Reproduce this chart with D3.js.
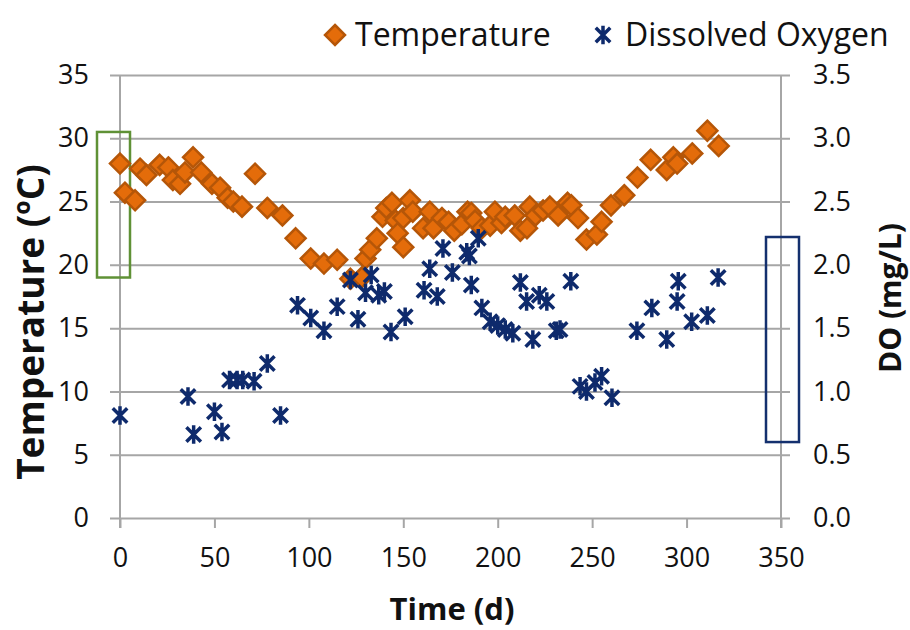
<!DOCTYPE html>
<html lang="en">
<head>
    <meta charset="UTF-8">
    <title>Temperature and DO</title>
    <script src="https://cdn.jsdelivr.net/npm/d3@7/dist/d3.min.js"></script>
    <style>
        body {
            margin: 0;
            background: #fff;
        }

        svg text {
            font-family: "Open Sans", sans-serif;
            fill: #111;
        }

        svg .grid line {
            stroke: #a6a6a6;
            stroke-width: 2px;
        }

        svg .axis-line {
            stroke: #a6a6a6;
            stroke-width: 2px;
        }

        svg .tick-label text {
            font-size: 27px;
        }

        svg .title {
            font-weight: bold;
        }

        svg .temp-node {
            fill: #e46c0a;
            stroke: #b55608;
            stroke-width: 2.5px;
        }

        svg .do-node {
            fill: none;
            stroke: #0e2a6c;
            stroke-width: 3.5px;
            stroke-linecap: square;
        }
    </style>
</head>
<body>
    <svg width="910" height="630"></svg>
    <script>
        // temperature (ºC) against time (d)
        var tempDays = [0, 2.6, 8, 10.6, 14, 21, 25.6, 28, 31.8, 34.4, 38.7, 43, 48.7, 53, 57, 60, 64.6,
                71.5, 78, 86, 93, 101, 108, 115, 122, 128, 130, 132.5, 136, 139, 141, 144, 146, 147,
                150, 150, 153.5, 155, 160.5, 164, 166, 170.5, 174, 177, 181, 184, 186, 188, 191.6,
                196, 198.5, 202, 204, 209, 212, 215.5, 217, 220, 224, 227.6, 232, 237, 239, 242.5,
                247, 252.5, 255, 260, 267, 274, 281, 289.5, 293, 295, 303, 311, 317],
            tempValues = [28.0, 25.7, 25.1, 27.6, 27.1, 27.9, 27.7, 26.7, 26.4, 27.3, 28.5, 27.3, 26.4,
                26.1, 25.3, 25.0, 24.6, 27.2, 24.5, 23.9, 22.1, 20.5, 20.1, 20.4, 18.9, 19.0, 20.5,
                21.2, 22.1, 23.8, 24.5, 24.9, 23.5, 22.5, 21.4, 23.7, 25.1, 24.2, 22.9, 24.2, 22.9,
                23.7, 23.4, 22.7, 23.2, 24.2, 24.1, 23.5, 22.9, 23.1, 24.2, 23.3, 23.8, 23.9, 22.7,
                22.9, 24.6, 23.9, 24.3, 24.6, 23.9, 24.9, 24.7, 23.7, 22.0, 22.4, 23.4, 24.7, 25.5,
                26.9, 28.3, 27.5, 28.5, 28.0, 28.8, 30.6, 29.4];

        // dissolved oxygen (mg/L) against time (d)
        var doDays = [0, 36, 39, 50, 54, 58, 62, 65, 71, 78, 85, 94, 101, 108, 115, 122, 126, 130,
                133, 137, 140, 143.5, 151, 161, 164, 168, 171, 176, 183.6, 185, 186, 189.7, 191.6,
                196, 200, 204, 208, 212, 215.3, 218.6, 222, 226, 231, 233, 238.7, 243.6, 247, 251.5,
                255, 260.5, 273.7, 281.6, 289.5, 295, 295.6, 302.7, 311, 316.7],
            doValues = [0.81, 0.96, 0.66, 0.84, 0.68, 1.09, 1.09, 1.09, 1.08, 1.22, 0.81, 1.68, 1.58,
                1.48, 1.67, 1.88, 1.57, 1.78, 1.92, 1.76, 1.79, 1.47, 1.59, 1.80, 1.97, 1.75, 2.13,
                1.94, 2.10, 2.07, 1.84, 2.21, 1.66, 1.55, 1.52, 1.49, 1.46, 1.86, 1.71, 1.41, 1.76,
                1.71, 1.48, 1.49, 1.87, 1.04, 1.00, 1.07, 1.12, 0.95, 1.48, 1.66, 1.41, 1.71, 1.87,
                1.55, 1.60, 1.90];

        var xTicks = [0, 50, 100, 150, 200, 250, 300, 350],
            tempTicks = [0, 5, 10, 15, 20, 25, 30, 35],
            doTicks = [0, 0.5, 1.0, 1.5, 2.0, 2.5, 3.0, 3.5],
            seriesNames = ['Temperature', 'Dissolved Oxygen'];

        var svg = d3.select('svg'),
            x = d3.scaleLinear().domain([0, 350]).range([120, 781]),
            yT = d3.scaleLinear().domain([0, 35]).range([518, 75]),
            yD = d3.scaleLinear().domain([0, 3.5]).range([518, 75]);

        var diamond = 'M0,-10L10,0L0,10L-10,0Z',
            star = 'M-6,-6L6,6M-6,6L6,-6M0,-7.5L0,7.5';

        // horizontal grid, running from left tick to right tick
        svg.append('g')
            .attr('class', 'grid')
            .attr('transform', 'translate(790,0)')
            .call(d3.axisLeft(yT).tickValues(tempTicks).tickSize(680).tickFormat(''))
            .call(function(g) { g.select('.domain').remove(); });

        // vertical axis lines
        svg.append('line')
            .attr('class', 'axis-line')
            .attr('x1', x(0)).attr('x2', x(0))
            .attr('y1', yT(35)).attr('y2', yT(0) + 10);

        svg.append('line')
            .attr('class', 'axis-line')
            .attr('x1', x(350)).attr('x2', x(350))
            .attr('y1', yT(35)).attr('y2', yT(0) + 10);

        // bottom axis
        var xAxis = svg.append('g')
            .attr('class', 'tick-label')
            .attr('transform', 'translate(0,518)')
            .call(d3.axisBottom(x).tickValues(xTicks).tickSize(10).tickPadding(20));
        xAxis.select('.domain').remove();
        xAxis.selectAll('.tick line').attr('stroke', '#a6a6a6').attr('stroke-width', 2);
        xAxis.selectAll('text').attr('fill', '#111');

        var leftAxis = svg.append('g')
            .attr('class', 'tick-label')
            .attr('transform', 'translate(110,0)')
            .call(d3.axisLeft(yT).tickValues(tempTicks).tickSize(0).tickPadding(21));
        leftAxis.select('.domain').remove();
        leftAxis.selectAll('text').attr('fill', '#111');

        var rightAxis = svg.append('g')
            .attr('class', 'tick-label')
            .attr('transform', 'translate(790,0)')
            .call(d3.axisRight(yD).tickValues(doTicks).tickSize(0).tickPadding(23)
                .tickFormat(d3.format('.1f')));
        rightAxis.select('.domain').remove();
        rightAxis.selectAll('text').attr('fill', '#111');

        // highlight boxes
        svg.append('rect')
            .attr('x', x(0) - 23).attr('y', yT(30.5))
            .attr('width', 33).attr('height', yT(19) - yT(30.5))
            .attr('fill', 'none').attr('stroke', '#5f9136').attr('stroke-width', 2.5);

        svg.append('rect')
            .attr('x', x(350) - 15).attr('y', yD(2.22))
            .attr('width', 33).attr('height', yD(0.6) - yD(2.22))
            .attr('fill', 'none').attr('stroke', '#14306e').attr('stroke-width', 2.5);

        // series
        svg.append('g').selectAll('path')
            .data(tempDays)
            .enter().append('path')
            .attr('class', 'temp-node')
            .attr('d', diamond)
            .attr('transform', function(d, i) {
                return 'translate(' + x(d) + ',' + yT(tempValues[i]) + ')';
            });

        svg.append('g').selectAll('path')
            .data(doDays)
            .enter().append('path')
            .attr('class', 'do-node')
            .attr('d', star)
            .attr('transform', function(d, i) {
                return 'translate(' + x(d) + ',' + yD(doValues[i]) + ')';
            });

        // axis titles
        svg.append('text')
            .attr('class', 'title')
            .attr('x', 452).attr('y', 620)
            .attr('text-anchor', 'middle')
            .style('font-size', '31px')
            .text('Time (d)');

        svg.append('text')
            .attr('class', 'title')
            .attr('transform', 'translate(44,322) rotate(-90)')
            .attr('text-anchor', 'middle')
            .style('font-size', '37px')
            .text('Temperature (ºC)');

        svg.append('text')
            .attr('class', 'title')
            .attr('transform', 'translate(901,298) rotate(-90)')
            .attr('text-anchor', 'middle')
            .style('font-size', '30px')
            .text('DO (mg/L)');

        // legend
        var legend = svg.append('g');
        legend.append('path')
            .attr('class', 'temp-node')
            .attr('d', diamond)
            .attr('transform', 'translate(335,35)');
        legend.append('text')
            .attr('x', 355).attr('y', 46)
            .style('font-size', '32px')
            .text(seriesNames[0]);
        legend.append('path')
            .attr('class', 'do-node')
            .attr('d', star)
            .attr('transform', 'translate(603,35)');
        legend.append('text')
            .attr('x', 625).attr('y', 46)
            .style('font-size', '32px')
            .text(seriesNames[1]);
    </script>
</body>
</html>
